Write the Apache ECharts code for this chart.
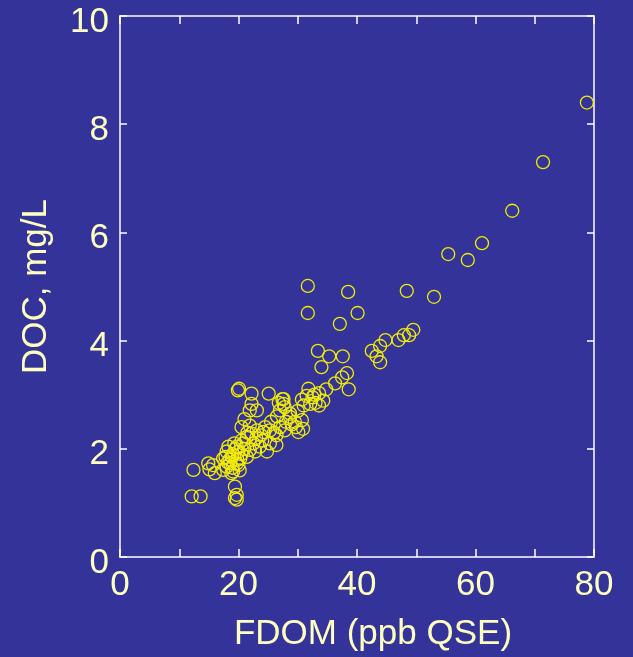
<!DOCTYPE html>
<html>
<head>
<meta charset="utf-8">
<script src="https://cdn.jsdelivr.net/npm/echarts@6/dist/echarts.min.js"></script>
<style>
html,body{margin:0;padding:0;background:#333399;overflow:hidden;}
#c{width:633px;height:657px;}
</style>
</head>
<body>
<div id="c"></div>
<script>
// FDOM (ppb QSE) values
const fdom = [
  78.8, 71.4, 66.2, 61.1, 58.7, 55.4, 53.0, 48.4, 49.5, 48.8, 47.9, 47.0, 44.8, 43.9, 43.3, 43.9, 42.5,
  40.1, 38.5, 37.1, 31.7, 31.7, 33.4, 35.3, 37.6, 34.0, 38.3, 37.5, 36.3, 38.6, 34.8, 33.6, 34.3,
  31.8, 30.7, 32.1, 33.6, 27.6, 27.6, 28.7, 20.1, 19.9, 22.2, 25.1, 27.4, 22.2, 23.1, 21.9, 27.0,
  27.8, 28.7, 30.7, 29.5, 30.9, 30.1, 27.8, 26.4, 25.3, 24.2, 23.1, 21.9, 22.2, 25.3, 26.4, 24.8,
  23.6, 21.4, 20.8, 19.7, 18.3, 18.0, 18.9, 17.4, 18.6, 19.7, 20.3, 21.4, 21.9, 18.0, 19.1, 15.7,
  14.9, 16.0, 12.4, 15.1, 17.4, 19.4, 19.7, 19.4, 19.7, 12.1, 13.6,
  18.5, 19.0, 19.5, 20.0, 20.5, 21.0, 22.5, 23.0, 24.0, 21.5, 20.0, 19.0, 18.2, 17.8, 19.8, 20.5,
  22.8, 23.8, 24.5, 26.0, 27.0, 28.0, 29.0, 30.0, 31.0, 32.5, 33.0, 26.8, 26.5, 25.5, 20.5, 21.0,
  20.2, 18.8, 19.3, 29.7, 31.5, 32.8
];
// DOC (mg/L) values
const doc = [
  8.40, 7.30, 6.40, 5.80, 5.49, 5.60, 4.81, 4.92, 4.20, 4.10, 4.10, 4.01, 4.01, 3.90, 3.71, 3.60, 3.81,
  4.51, 4.90, 4.31, 5.01, 4.51, 3.81, 3.71, 3.71, 3.51, 3.40, 3.32, 3.21, 3.10, 3.10, 3.03, 2.89,
  3.11, 2.91, 2.83, 2.80, 2.92, 2.83, 2.65, 3.11, 3.08, 3.02, 3.02, 2.92, 2.83, 2.71, 2.71, 2.71,
  2.77, 2.59, 2.53, 2.50, 2.37, 2.31, 2.34, 2.25, 2.34, 2.31, 2.34, 2.43, 2.28, 2.10, 2.07, 1.95,
  2.04, 2.22, 2.10, 2.04, 2.04, 1.95, 1.85, 1.82, 1.73, 1.73, 1.82, 1.85, 1.98, 1.67, 1.58, 1.70,
  1.73, 1.55, 1.61, 1.62, 1.61, 1.30, 1.15, 1.09, 1.06, 1.12, 1.12,
  1.80, 1.90, 2.00, 1.95, 1.90, 2.00, 2.10, 2.20, 2.15, 2.30, 1.70, 1.65, 1.75, 1.85, 1.80, 2.15,
  1.95, 2.25, 2.40, 2.30, 2.40, 2.50, 2.45, 2.70, 2.80, 2.95, 2.85, 2.85, 2.60, 2.50, 2.40, 2.55,
  1.60, 1.55, 2.10, 2.40, 2.98, 3.00
];
const xTickLabels = ['0', '20', '40', '60', '80'];
const yTickLabels = ['0', '2', '4', '6', '8', '10'];
const xTitle = 'FDOM (ppb QSE)';
const yTitle = 'DOC, mg/L';

const points = fdom.map((v, i) => [v, doc[i]]);
const txt = '#FFFFC0';
const font = 'Liberation Sans, Arial, sans-serif';

const chart = echarts.init(document.getElementById('c'), null, {renderer: 'canvas', width: 633, height: 657});
const xBase = {
  type: 'value', min: 0, max: 80, interval: 10,
  axisLine: {show: true, onZero: false, lineStyle: {color: '#ffffff', width: 1.5}},
  axisTick: {show: true, inside: true, length: 8, lineStyle: {color: '#ffffff', width: 1.5}},
  splitLine: {show: false}
};
const yBase = {
  type: 'value', min: 0, max: 10, interval: 2,
  axisLine: {show: true, onZero: false, lineStyle: {color: '#ffffff', width: 1.5}},
  axisTick: {show: true, inside: true, length: 7, lineStyle: {color: '#ffffff', width: 1.5}},
  splitLine: {show: false}
};
chart.setOption({
  backgroundColor: '#333399',
  animation: false,
  grid: {left: 120, width: 474, top: 16, height: 545, containLabel: false},
  xAxis: [
    Object.assign({}, xBase, {
      position: 'bottom',
      name: xTitle, nameLocation: 'middle', nameGap: 60,
      nameTextStyle: {color: txt, fontSize: 35, fontFamily: font, padding: [0, 0, 0, 32]},
      axisLabel: {
        color: txt, fontSize: 35, fontFamily: font, margin: 11, lineHeight: 35, verticalAlign: 'top',
        formatter: v => (xTickLabels.indexOf(String(v)) >= 0 ? String(v) : '')
      }
    }),
    Object.assign({}, xBase, {position: 'top', axisLabel: {show: false}})
  ],
  yAxis: [
    Object.assign({}, yBase, {
      position: 'left',
      name: yTitle, nameLocation: 'middle', nameGap: 66,
      nameTextStyle: {color: txt, fontSize: 35, fontFamily: font},
      axisLabel: {
        color: txt, fontSize: 35, fontFamily: font, margin: 11, lineHeight: 12, verticalAlign: 'top',
        formatter: v => (yTickLabels.indexOf(String(v)) >= 0 ? String(v) : '')
      }
    }),
    Object.assign({}, yBase, {position: 'right', axisLabel: {show: false}})
  ],
  series: [{
    type: 'scatter',
    xAxisIndex: 0, yAxisIndex: 0,
    data: points,
    symbol: 'circle',
    symbolSize: 13,
    itemStyle: {color: 'rgba(0,0,0,0)', borderColor: '#F2EC00', borderWidth: 1.3, opacity: 1},
    emphasis: {disabled: true},
    z: 5
  }]
});
</script>
</body>
</html>
